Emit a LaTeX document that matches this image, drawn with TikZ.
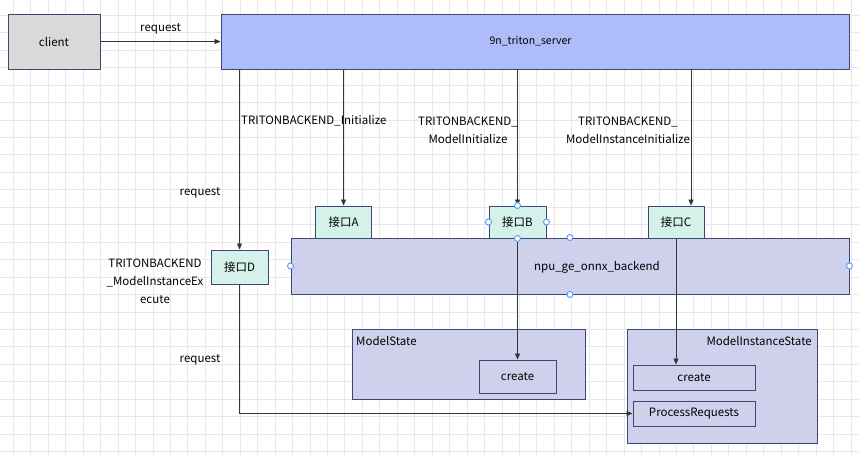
\documentclass[tikz,border=0pt]{standalone}
\usepackage{fontspec}
\setmainfont{Noto Sans CJK SC}
\usetikzlibrary{arrows.meta,positioning}
\definecolor{FrameNavy}{HTML}{3C4670}
\definecolor{ClientGray}{HTML}{D9D9D9}
\definecolor{ServerBlue}{HTML}{AEBDF9}
\definecolor{PortMint}{HTML}{D4F2EA}
\definecolor{BackendLilac}{HTML}{CFD1EC}
\definecolor{HandleBlue}{HTML}{4A9BFF}
\definecolor{GridGray}{HTML}{E8E8E8}
\definecolor{WireGray}{HTML}{333333}

\tikzset{
  box/.style={draw=FrameNavy, line width=1pt, inner sep=0pt, font=\fontsize{11.5}{14}\selectfont},
  port/.style={box, fill=PortMint, minimum width=56pt, minimum height=32pt},
  state/.style={box, fill=BackendLilac},
  wire/.style={draw=WireGray, line width=0.9pt, -{Triangle[length=6pt,width=5pt]}},
  tag/.style={inner sep=0pt, align=center, font=\fontsize{11.5}{18}\selectfont},
  handle/.style={circle, draw=HandleBlue, fill=white, line width=0.9pt, minimum size=6pt, inner sep=0pt},
}

\begin{document}
\begin{tikzpicture}[x=1pt,y=-1pt]
  \useasboundingbox[fill=white] (0,0) rectangle (859,455);
  \foreach \i in {0,...,48} {
    \draw[GridGray, line width=0.8pt] ({13.3+17.45*\i},0) -- ++(0,455);
  }
  \foreach \i in {0,...,25} {
    \draw[GridGray, line width=0.8pt] (0,{15.25+17.45*\i}) -- ++(859,0);
  }

  \node[box, fill=ClientGray, minimum width=92pt, minimum height=55pt] (client) at (54,41.5) {client};
  \node[box, fill=ServerBlue, minimum width=628pt, minimum height=55pt] (server) at (535,41.5) {};
  \node[tag, font=\fontsize{10.5}{13}\selectfont] (servertag) at (530.5,41.5) {9n\_triton\_server};

  \node[state, minimum width=558pt, minimum height=56pt] (backend) at (570,266) {};
  \node[tag] (backendtag) at (597,267) {npu\_ge\_onnx\_backend};
  \node[port] (portA) at (343.5,222) {接口A};
  \node[port, minimum width=57pt] (portB) at (517.5,222) {接口B};
  \node[port] (portC) at (676,222) {接口C};
  \node[port, minimum width=57pt, minimum height=34pt] (portD) at (239.5,267) {接口D};

  \node[state, minimum width=233pt, minimum height=70pt] (modelstate) at (468.5,364) {};
  \node[tag, anchor=north west] (modelstatetag) at (356,336) {ModelState};
  \node[state, minimum width=77pt, minimum height=33pt] (mscreate) at (517.5,376.5) {create};

  \node[state, minimum width=190pt, minimum height=114pt] (instancestate) at (722,386) {};
  \node[tag, anchor=north east] (instancestatetag) at (812,336) {ModelInstanceState};
  \node[state, minimum width=122pt, minimum height=25pt] (iscreate) at (694,377.5) {create};
  \node[state, minimum width=122pt, minimum height=25pt] (process) at (694,413.5) {ProcessRequests};

  \coordinate (cwire) at (691,0);

  \draw[wire] (client.east) -- (server.west) node[tag, midway, above=7pt] (reqtop) {request};
  \draw[wire] (server.south -| portD.north) -- (portD.north);
  \draw[wire] (server.south -| portA.north) -- (portA.north);
  \draw[wire] (server.south -| portB.north) -- (portB.north);
  \draw[wire] (server.south -| cwire) -- (portC.north -| cwire);
  \draw[wire] (portB.south) -- (mscreate.north);
  \draw[wire] (portC.south) -- (portC.south |- iscreate.north);
  \draw[wire] (portD.south) -- (portD.south |- process.west) -- (process.west);

  \node[tag, anchor=west] (initA) at (241,121) {TRITONBACKEND\_Initialize};
  \node[tag] (initB) at (468,130) {TRITONBACKEND\_\\ModelInitialize};
  \node[tag] (initC) at (628,130) {TRITONBACKEND\_\\ModelInstanceInitialize};
  \node[tag] (reqmid) at (200,193) {request};
  \node[tag] (execD) at (155,281) {TRITONBACKEND\\\_ModelInstanceEx\\ecute};
  \node[tag] (reqlow) at (200,360) {request};

  \foreach \p in {portB.north,portB.west,portB.east,portB.south,backend.north,backend.west,backend.east,backend.south} {
    \node[handle] at (\p) {};
  }
\end{tikzpicture}
\end{document}
